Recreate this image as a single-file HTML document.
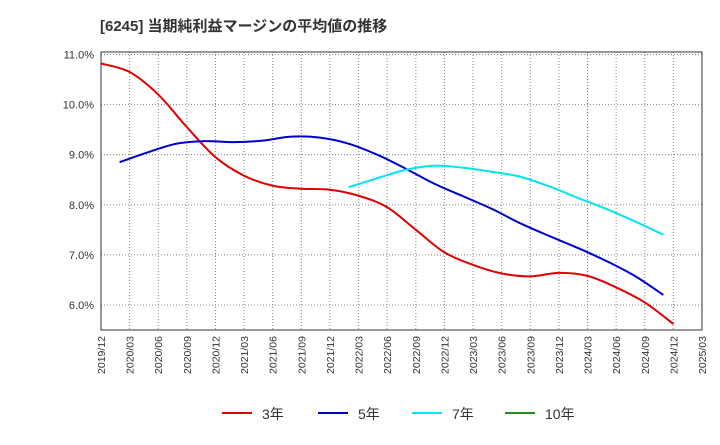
<!DOCTYPE html>
<html><head><meta charset="utf-8"><style>body{margin:0;background:#fff}svg{font-family:"Liberation Sans","Noto Sans CJK JP",sans-serif}</style></head>
<body>
<svg id="c" width="720" height="440"></svg>
<script>
const xLabels=["2019/12","2020/03","2020/06","2020/09","2020/12","2021/03","2021/06","2021/09","2021/12","2022/03","2022/06","2022/09","2022/12","2023/03","2023/06","2023/09","2023/12","2024/03","2024/06","2024/09","2024/12","2025/03"];
const yTicks=[6,7,8,9,10,11];
const s3Start=0;
const s3=[10.82,10.65,10.2,9.55,8.95,8.58,8.38,8.32,8.3,8.18,7.95,7.5,7.05,6.8,6.63,6.57,6.64,6.58,6.35,6.05,5.62];
const s5Start=0.65;
const s5=[8.85,9.05,9.22,9.27,9.25,9.28,9.36,9.34,9.22,9.0,8.72,8.42,8.17,7.92,7.63,7.38,7.14,6.88,6.58,6.2];
const s7Start=8.65;
const s7=[8.35,8.53,8.7,8.78,8.74,8.66,8.56,8.37,8.14,7.92,7.67,7.4];
const s10=[];
const NS="http://www.w3.org/2000/svg",svg=document.getElementById('c');
const L=101,R=702,T=52,B=330;
const x=i=>L+(R-L)*i/(xLabels.length-1);
const y=v=>B-(v-5.5)*(B-T)/(11.05-5.5);
function el(t,a,p){const e=document.createElementNS(NS,t);for(const k in a)e.setAttribute(k,a[k]);(p||svg).appendChild(e);return e;}
const title=el('text',{x:100,y:31,'font-size':15,'font-weight':'bold',fill:'#333'});title.textContent='[6245]  当期純利益マージンの平均値の推移';


yTicks.forEach(v=>{const g=el('line',{x1:L,x2:R,y1:y(v),y2:y(v),stroke:'#888','stroke-dasharray':'1,2'});


const t=el('text',{x:L-7,y:y(v)+4,'text-anchor':'end','font-size':11,fill:'#333'});t.textContent=v.toFixed(1)+'%';

});
xLabels.forEach((s,i)=>{const g=el('line',{x1:x(i),x2:x(i),y1:T,y2:B,stroke:'#888','stroke-dasharray':'1,2'});


const t=el('text',{transform:`translate(${x(i)+4},336) rotate(-90)`,'text-anchor':'end','font-size':10.5,fill:'#333'});t.textContent=s;

});
const fr=el('rect',{x:L,y:T,width:R-L,height:B-T,fill:'none',stroke:'#333'});


function path(arr,st){const p=[];arr.forEach((v,i)=>{if(v!=null)p.push([x(st+i),y(v)])});if(!p.length)return'';let d=`M${p[0][0]},${p[0][1]}`;
for(let i=0;i<p.length-1;i++){const p0=p[i-1]||p[i],p1=p[i],p2=p[i+1],p3=p[i+2]||p2;
d+=`C${p1[0]+(p2[0]-p0[0])/6},${p1[1]+(p2[1]-p0[1])/6} ${p2[0]-(p3[0]-p1[0])/6},${p2[1]-(p3[1]-p1[1])/6} ${p2[0]},${p2[1]}`;}return d;}
[[s3,s3Start,'#e00000','series-3y'],[s5,s5Start,'#0000cc','series-5y'],[s7,s7Start,'#00e5ee','series-7y'],[s10,0,'#228b22','series-10y']].forEach(([a,st,c,n])=>{const d=path(a,st);if(!d)return;const p=el('path',{d,fill:'none',stroke:c,'stroke-width':2});

});
[['3年','#e00000',222],['5年','#0000cc',318],['7年','#00e5ee',412],['10年','#228b22',505]].forEach(([t,c,lx])=>{const g=el('g',{});


el('line',{x1:lx,x2:lx+30,y1:413,y2:413,stroke:c,'stroke-width':2},g);const tx=el('text',{x:lx+40,y:419,'font-size':14,fill:'#333'},g);tx.textContent=t;});
</script>
</body></html>
